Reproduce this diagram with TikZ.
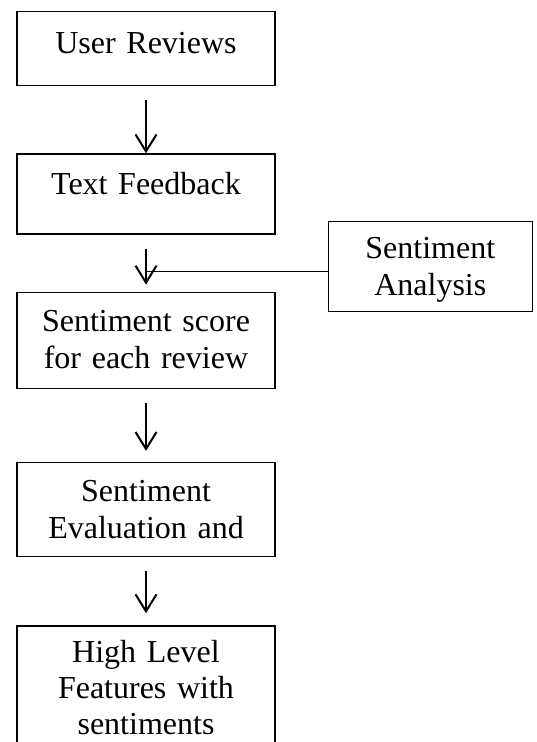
\documentclass[tikz,border=0pt]{standalone}
\usepackage{fontspec}
\setmainfont{Liberation Serif}
\usetikzlibrary{arrows.meta,calc}
\usetikzlibrary{positioning}

\begin{document}
\begin{tikzpicture} [
    x=1pt, y=1pt,
    stage/.style={rectangle, draw=black, line width=1.3pt, inner sep=0pt, text width=258pt, align=center, text height=40pt, font=\fontsize{32}{37}\selectfont},
    side/.style={stage, text width=204pt, text height=37pt, text depth=53pt},
    flow/.style={->, line width=2pt, shorten <=14pt},
    >={Straight Barb[length=17pt,width=21pt]}
    ]
    \useasboundingbox (0,0) rectangle (537,-742);
    \clip (0,0) rectangle (537,-742);
    %Nodes

    \node[stage, text height=42pt, text depth=32pt, anchor=north]      (ur)       at (146,-11) {User Reviews};
    \node[stage, text height=41pt, text depth=39pt]      (tf)  [below=67pt of ur] {Text Feedback};
    \node[stage, text height=39pt, text depth=57pt]      (ss)  [below=57pt of tf] {Sentiment score\\for each review};
    \node[stage, text height=39pt, text depth=55pt]      (se)  [below=73pt of ss] {Sentiment\\Evaluation and};
    \node[stage, text height=37pt, text depth=140pt, font=\fontsize{32}{36}\selectfont]     (hl)  [below=68pt of se] {High Level\\Features with\\sentiments};
    \node[side, anchor=north west]      (sa)  at ([shift={(52,14)}]tf.south east) {Sentiment\\Analysis};
    \coordinate (join) at ([yshift=-5pt]sa.west -| ss.north);

    %Lines
    \draw[flow] (ur.south) -- (tf.north);
    \draw[flow, shorten >=7pt] (tf.south) -- (ss.north);
    \draw[flow, shorten >=11pt] (ss.south) -- (se.north);
    \draw[flow, shorten >=12pt] (se.south) -- (hl.north);
    \draw[line width=1.5pt] ([yshift=-5pt]sa.west) -- (join);
\end{tikzpicture}
\end{document}
